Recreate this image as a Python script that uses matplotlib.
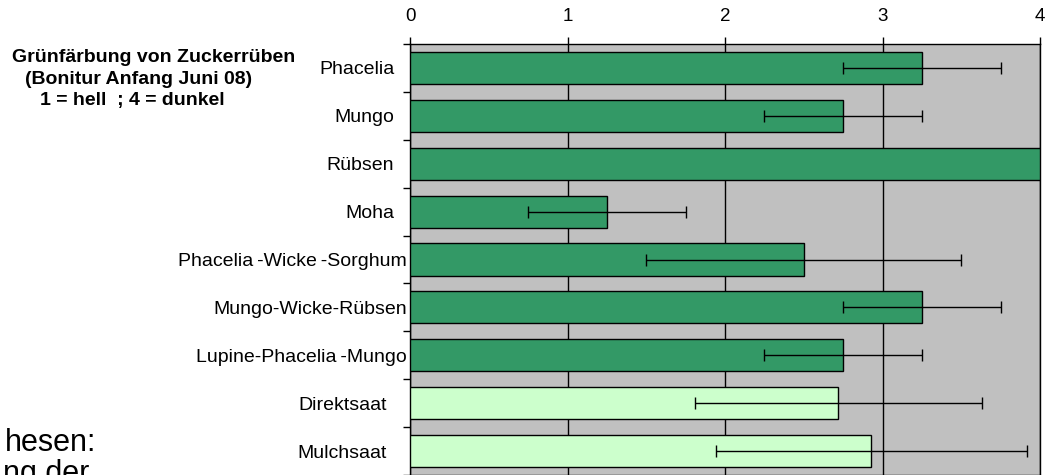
import numpy as np
import matplotlib
matplotlib.use("Agg")
from matplotlib import pyplot as plt
from matplotlib.transforms import ScaledTranslation

plt.rcParams['font.family'] = ['Liberation Sans', 'DejaVu Sans']

# Daten (Bonitur Grünfärbung, 1 = hell ; 4 = dunkel)
varianten = ['Phacelia', 'Mungo', 'Rübsen', 'Moha', 'Phacelia\u2009-Wicke\u2009-Sorghum',
             'Mungo-Wicke-Rübsen', 'Lupine-Phacelia\u2009-Mungo', 'Direktsaat', 'Mulchsaat']
mittelwerte = [3.25, 2.75, 4.0, 1.25, 2.5, 3.25, 2.75, 2.72, 2.93]
fehler = [0.5, 0.5, 0.0, 0.5, 1.0, 0.5, 0.5, 0.91, 0.99]
farben = ['#339966'] * 7 + ['#CCFFCC'] * 2
titel = ['Grünfärbung von Zuckerrüben', '(Bonitur Anfang Juni 08)', '1 = hell  ; 4 = dunkel']

fig = plt.figure(figsize=(10.5, 4.75), dpi=100)
ax = fig.add_axes([410 / 1050, 0.0, 630 / 1050, 431 / 475])

y = np.arange(len(varianten))
ax.barh(y, mittelwerte, height=0.67, color=farben, edgecolor='black',
        linewidth=1, zorder=3)
err_y = [yy for yy, e in zip(y, fehler) if e > 0]
err_x = [m for m, e in zip(mittelwerte, fehler) if e > 0]
err_e = [e for e in fehler if e > 0]
ax.errorbar(err_x, err_y, xerr=err_e, fmt='none', ecolor='black',
            elinewidth=1, capsize=4, capthick=1, zorder=4)

ax.set_xlim(0, 4)
ax.set_ylim(len(varianten) - 0.5, -0.5)
ax.set_facecolor('#C0C0C0')
ax.set_xticks([0, 1, 2, 3, 4])
ax.xaxis.tick_top()
ax.tick_params(axis='x', direction='out', length=5, width=1, labelsize=13.5, pad=9)
ax.grid(axis='x', color='black', linewidth=1, zorder=1)

# Kategorie-Beschriftung und Trennstriche
ax.set_yticks(y)
ax.set_yticklabels(varianten, fontsize=14)
ax.tick_params(axis='y', length=0, pad=2)
ax.set_yticks(np.arange(len(varianten) + 1) - 0.5, minor=True)
ax.tick_params(axis='y', which='minor', direction='out', length=5, width=1)
# kurze Beschriftungen stehen in Excel etwas weiter links
for lab in ax.get_yticklabels():
    n = len(lab.get_text())
    if n > 15:
        dx = 0
    elif n > 8:
        dx = -20
    else:
        dx = -13
    lab.set_transform(lab.get_transform() + ScaledTranslation(dx / 100, 0, fig.dpi_scale_trans))
for s in ax.spines.values():
    s.set_linewidth(1)
    s.set_color('black')

# Titelblock links oben
for txt, x0, y0 in zip(titel, [12, 25, 40], [58, 80, 101]):
    fig.text(x0 / 1050, 1 - y0 / 475, txt, ha='left', va='center',
             fontsize=14, fontweight='bold')

# abgeschnittener Folientext links unten
fig.text(96 / 1050, 1 - 443 / 475, 'hesen:', ha='right', va='center', fontsize=22)
fig.text(89 / 1050, 1 - 474 / 475, 'ng der', ha='right', va='center', fontsize=22)

fig.savefig('out.png', dpi=100)
